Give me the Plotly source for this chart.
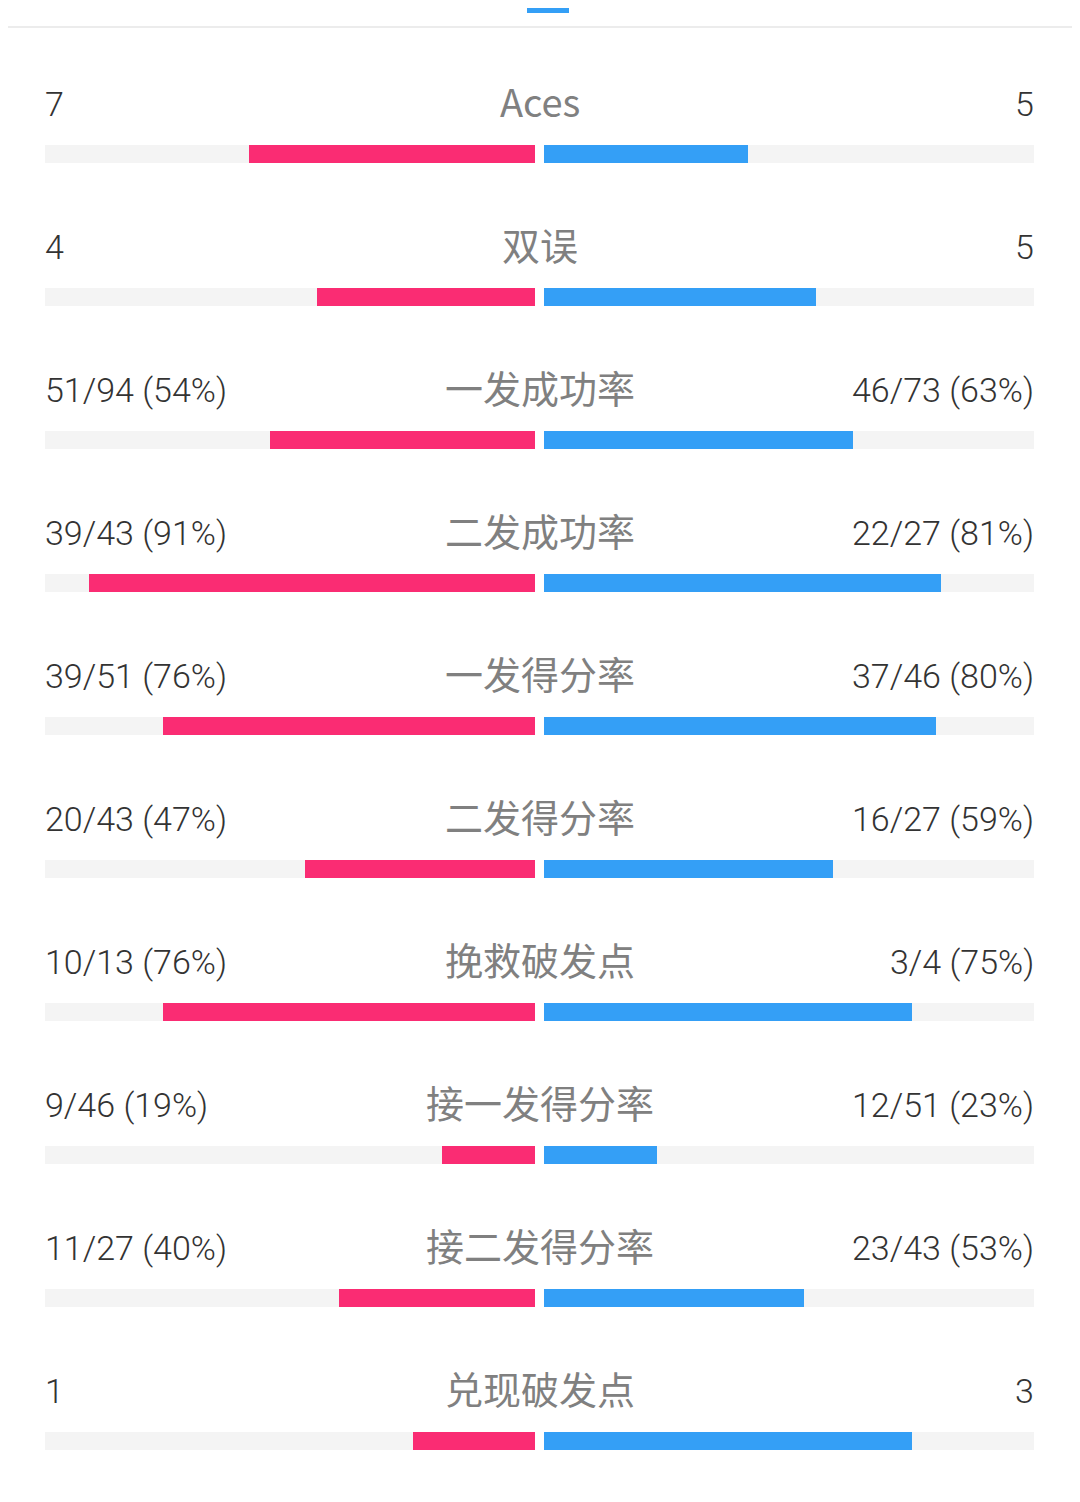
import plotly.graph_objects as go

labels = ["Aces", "双误", "一发成功率", "二发成功率", "一发得分率", "二发得分率",
          "挽救破发点", "接一发得分率", "接二发得分率", "兑现破发点"]
left_text = ["7", "4", "51/94 (54%)", "39/43 (91%)", "39/51 (76%)", "20/43 (47%)",
             "10/13 (76%)", "9/46 (19%)", "11/27 (40%)", "1"]
right_text = ["5", "5", "46/73 (63%)", "22/27 (81%)", "37/46 (80%)", "16/27 (59%)",
              "3/4 (75%)", "12/51 (23%)", "23/43 (53%)", "3"]
left_val = [7, 4, 54, 91, 76, 47, 76, 19, 40, 1]
right_val = [5, 5, 63, 81, 80, 59, 75, 23, 53, 3]
is_pct = [False, False, True, True, True, True, True, True, True, False]

PINK = "#FA2C73"
BLUE = "#349FF6"
TRACK = "#F4F4F4"

# fractions of half-track
lf, rf = [], []
for l, r, p in zip(left_val, right_val, is_pct):
    if p:
        lf.append(l / 100.0)
        rf.append(r / 100.0)
    else:
        s = l + r
        lf.append(l / s if s else 0)
        rf.append(r / s if s else 0)

n = len(labels)
rows = list(range(n))
OFF = 8             # default page body margin
W, H = 1080 - OFF, 1502 - OFF
u = 490.0           # px per unit
cx = 539.5 - OFF    # center pixel
g = 4.5 / u         # half gap
row_h = 143.0
bar_c0 = 154.0 - OFF
bw = 18.0 / row_h

fig = go.Figure()
# tracks
fig.add_trace(go.Bar(y=rows, x=[-1.0] * n, base=[-g] * n, orientation="h",
                     marker=dict(color=TRACK, line=dict(width=0)), width=bw,
                     hoverinfo="skip", showlegend=False))
fig.add_trace(go.Bar(y=rows, x=[1.0] * n, base=[g] * n, orientation="h",
                     marker=dict(color=TRACK, line=dict(width=0)), width=bw,
                     hoverinfo="skip", showlegend=False))
# values
fig.add_trace(go.Bar(y=rows, x=[-f for f in lf], base=[-g] * n, orientation="h",
                     marker=dict(color=PINK, line=dict(width=0)), width=bw,
                     showlegend=False))
fig.add_trace(go.Bar(y=rows, x=rf, base=[g] * n, orientation="h",
                     marker=dict(color=BLUE, line=dict(width=0)), width=bw,
                     showlegend=False))

num_font = dict(family="Roboto, sans-serif", size=34, color="#333333", weight=300)
lab_font = dict(family="Noto Sans CJK SC, Roboto, sans-serif", size=38, color="#808080", weight=400)
text_off = 50.0 / row_h

ann = []
for i in rows:
    yy = i - text_off
    ann.append(dict(x=-(1 + g), y=yy, xref="x", yref="y", text=left_text[i],
                    xanchor="left", yanchor="middle", showarrow=False, font=num_font,
                    xshift=-2))
    ann.append(dict(x=(1 + g), y=yy, xref="x", yref="y", text=right_text[i],
                    xanchor="right", yanchor="middle", showarrow=False, font=num_font,
                    xshift=2))
    ann.append(dict(x=0, y=yy, xref="x", yref="y", text=labels[i],
                    xanchor="center", yanchor="middle", showarrow=False, font=lab_font,
                    yshift=4))

shapes = [
    dict(type="rect", xref="paper", yref="paper",
         x0=(527 - OFF) / W, x1=(569 - OFF) / W, y0=1 - 5 / H, y1=1.01,
         fillcolor=BLUE, line=dict(width=0), layer="above"),
    dict(type="rect", xref="paper", yref="paper",
         x0=0, x1=1, y0=1 - (28 - OFF) / H, y1=1 - (26 - OFF) / H,
         fillcolor="#ECECEC", line=dict(width=0)),
]

fig.update_layout(
    width=W, height=H,
    margin=dict(l=0, r=0, t=0, b=0),
    paper_bgcolor="white", plot_bgcolor="white",
    barmode="overlay", bargap=0,
    xaxis=dict(range=[-cx / u, (W - cx) / u], visible=False, fixedrange=True),
    yaxis=dict(range=[(H - bar_c0) / row_h, -bar_c0 / row_h], visible=False, fixedrange=True),
    annotations=ann, shapes=shapes,
)

fig.write_html("out.html")
